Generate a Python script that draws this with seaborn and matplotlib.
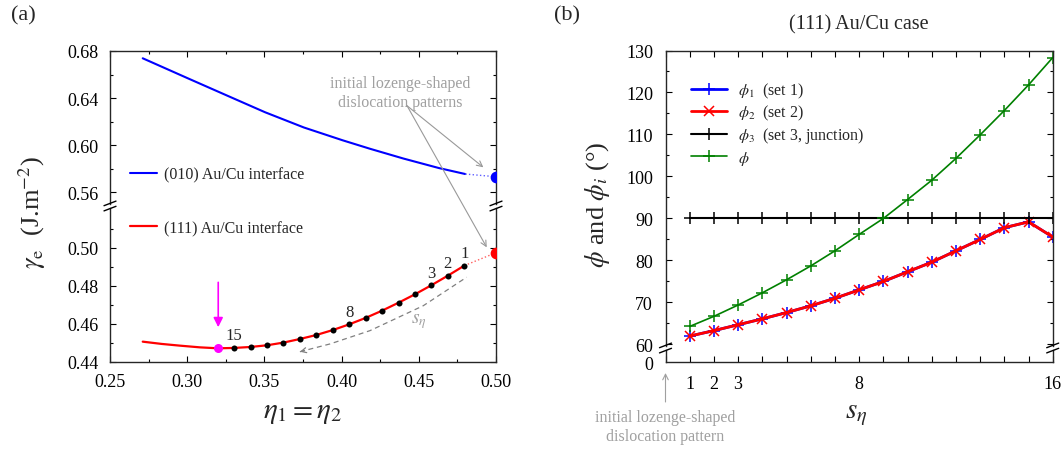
import matplotlib
matplotlib.use("Agg")
import matplotlib.pyplot as plt
import seaborn as sns
from matplotlib.lines import Line2D
from matplotlib.text import Annotation
from matplotlib.ticker import FixedLocator, FormatStrFormatter

# --- Data: panel (a), interface energy vs eta ---
eta_010 = [0.2712, 0.3007, 0.3256, 0.3504, 0.3756, 0.4007, 0.4184, 0.4400, 0.4630, 0.4801]
gam_010 = [0.6738, 0.6566, 0.6422, 0.6279, 0.6149, 0.6040, 0.5968, 0.5885, 0.5804, 0.5753]
eta_010_tail = [0.4801, 0.500]
gam_010_tail = [0.5753, 0.5730]

eta_111_head = [0.2712, 0.2835, 0.2953, 0.3083]
gam_111_head = [0.4507, 0.4495, 0.4486, 0.4477]
# dislocation steps s = 1..16 (16 = minimum, magenta)
eta_steps = [0.4795, 0.4688, 0.4582, 0.4475, 0.4369, 0.4262, 0.4156, 0.4049,
             0.3943, 0.3836, 0.3730, 0.3623, 0.3517, 0.3410, 0.3304, 0.3201]
gam_steps = [0.4907, 0.4854, 0.4804, 0.4756, 0.4712, 0.4670, 0.4632, 0.4598,
             0.4568, 0.4542, 0.4521, 0.4502, 0.4488, 0.4479, 0.4474, 0.4472]
eta_111_tail = [0.4795, 0.500]
gam_111_tail = [0.4907, 0.4975]
step_labels = {0: "1", 1: "2", 2: "3", 7: "8", 14: "15"}

# s_eta guide curve (grey dashed)
eta_guide = [0.3730, 0.3925, 0.4184, 0.4529, 0.4810]
gam_guide = [0.4454, 0.4495, 0.4565, 0.4696, 0.4846]

# --- Data: panel (b), angles vs s_eta ---
s_eta = [1, 2, 3, 4, 5, 6, 7, 8, 9, 10, 11, 12, 13, 14, 15, 16]
phi = [64.3, 66.7, 69.4, 72.3, 75.4, 78.7, 82.3, 86.2,
       90.0, 94.5, 99.1, 104.3, 109.9, 115.7, 121.8, 128.3]
phi1 = [62.0, 63.3, 64.7, 66.1, 67.6, 69.2, 71.0, 73.0,
        75.0, 77.3, 79.6, 82.3, 85.0, 87.8, 89.2, 85.6]
phi2 = [62.0, 63.3, 64.7, 66.1, 67.6, 69.2, 71.0, 73.0,
        75.0, 77.3, 79.6, 82.3, 85.0, 87.8, 89.2, 85.6]
phi3 = [90, 90, 90, 90, 90, 90, 90, 90, 90, 90, 90, 90, 90, 90, 90, 90]
s_ticklabels = ["", "1", "2", "3", "", "", "", "", "8",
                "", "", "", "", "", "", "", "16"]

# --- Style ---
sns.set_style("ticks")
plt.rcParams['font.family'] = ['Liberation Serif', 'DejaVu Serif']
plt.rcParams['mathtext.fontset'] = 'stix'
plt.rcParams['axes.linewidth'] = 1.0

W, H = 1064, 452
fig = plt.figure(figsize=(W / 100, H / 100), dpi=100)


def px_axes(x0, x1, y0, y1):
    return fig.add_axes([x0 / W, (H - y1) / H, (x1 - x0) / W, (y1 - y0) / H])


def style_ticks(ax):
    ax.tick_params(which='both', direction='in', top=True, right=True,
                   labelsize=13, width=0.8, colors='black')
    ax.tick_params(which='major', length=4, pad=8)
    ax.tick_params(which='minor', length=2.2)
    ax.set_xlabel('')
    ax.set_ylabel('')


def break_marks(xp, yp):
    for dy in (-2.6, 2.6):
        fig.add_artist(Line2D([(xp - 6) / 100, (xp + 6) / 100],
                              [(H - (yp + dy + 2.3)) / 100, (H - (yp + dy - 2.3)) / 100],
                              transform=fig.dpi_scale_trans, color='black', lw=1.0))


grey = '#a0a0a0'

# ================= Panel (a) =================
ax_au = px_axes(110, 496, 52, 205)
ax_al = px_axes(110, 496, 209, 363)

sns.lineplot(x=eta_010, y=gam_010, ax=ax_au, color='#0000ff', lw=1.5,
             label='(010) Au/Cu interface')
ax_au.plot(eta_010_tail, gam_010_tail, color='#6060ff', lw=1.0, ls=':')
ax_au.scatter([eta_010_tail[-1]], [gam_010_tail[-1]], s=55, color='#0000ff', zorder=5)

eta_111 = eta_111_head + eta_steps[::-1]
gam_111 = gam_111_head + gam_steps[::-1]
sns.lineplot(x=eta_111, y=gam_111, ax=ax_al, color='#ff0000', lw=1.6, sort=False,
             label='(111) Au/Cu interface')
ax_al.plot(eta_111_tail, gam_111_tail, color='#ff6060', lw=1.0, ls=':')
ax_al.scatter([eta_111_tail[-1]], [gam_111_tail[-1]], s=55, color='#ff0000', zorder=5)
sns.scatterplot(x=eta_steps[:15], y=gam_steps[:15], ax=ax_al, color='black', s=19,
                edgecolor='black', linewidth=0, zorder=6)
ax_al.scatter([eta_steps[15]], [gam_steps[15]], s=30, color='magenta', zorder=6)

for i, txt in step_labels.items():
    ax_al.annotate(txt, (eta_steps[i], gam_steps[i]), xytext=(0, 9),
                   textcoords='offset points', ha='center', va='center', fontsize=12)

# magenta arrow toward the minimum
ax_al.annotate('', xy=(eta_steps[15], 0.4583), xytext=(eta_steps[15], 0.4819),
               arrowprops=dict(arrowstyle='-|>', color='magenta', lw=1.2,
                               mutation_scale=14, shrinkA=0, shrinkB=0))

# s_eta guide
ax_al.plot(eta_guide, gam_guide, color='#808080', lw=0.9, ls=(0, (4, 3)))
ax_al.annotate('', xy=(eta_guide[0], gam_guide[0]),
               xytext=(eta_guide[0] + 0.003, gam_guide[0] + 0.0006),
               arrowprops=dict(arrowstyle='->', color='#808080', lw=0.9,
                               shrinkA=0, shrinkB=0, mutation_scale=9))
ax_al.text(0.4497, 0.4617, r'$s_\eta$', color=grey, fontsize=14,
           ha='center', va='center')

# initial pattern annotation
ax_au.text(0.4378, 0.6443, 'initial lozenge-shaped\ndislocation patterns',
           color=grey, fontsize=11.5, ha='center', va='center', linespacing=1.25)
for tgt, tax in (((0.4918, 0.5810), ax_au), ((0.4940, 0.5003), ax_al)):
    fig.add_artist(Annotation('', xy=tgt, xycoords=tax.transData,
                              xytext=(0.4424, 0.6334), textcoords=ax_au.transData,
                              arrowprops=dict(arrowstyle='->', color='#999999', lw=0.8,
                                              shrinkA=0, shrinkB=0)))

for ax in (ax_au, ax_al):
    ax.set_xlim(0.25, 0.50)
    ax.xaxis.set_major_locator(FixedLocator([0.25, 0.30, 0.35, 0.40, 0.45, 0.50]))
    ax.xaxis.set_minor_locator(FixedLocator([0.275, 0.325, 0.375, 0.425, 0.475]))
    ax.xaxis.set_major_formatter(FormatStrFormatter('%.2f'))
    ax.yaxis.set_major_formatter(FormatStrFormatter('%.2f'))
    style_ticks(ax)

ax_au.set_ylim(0.5498, 0.68)
ax_au.yaxis.set_major_locator(FixedLocator([0.56, 0.60, 0.64, 0.68]))
ax_au.yaxis.set_minor_locator(FixedLocator([0.58, 0.62, 0.66]))
ax_au.spines['bottom'].set_visible(False)
ax_au.tick_params(which='both', bottom=False, labelbottom=False)

ax_al.set_ylim(0.44, 0.521)
ax_al.yaxis.set_major_locator(FixedLocator([0.44, 0.46, 0.48, 0.50]))
ax_al.yaxis.set_minor_locator(FixedLocator([0.45, 0.47, 0.49, 0.51]))
ax_al.spines['top'].set_visible(False)
ax_al.tick_params(which='both', top=False)

ax_au.legend(handles=[ax_au.lines[0]], loc='upper left', bbox_to_anchor=(0.052, 0.245),
             frameon=False, fontsize=11.5, handlelength=1.7, handletextpad=0.4,
             borderpad=0, borderaxespad=0)
ax_al.legend(handles=[ax_al.lines[0]], loc='upper left', bbox_to_anchor=(0.052, 0.922),
             frameon=False, fontsize=11.5, handlelength=1.7, handletextpad=0.4,
             borderpad=0, borderaxespad=0)

break_marks(110, 207)
break_marks(496, 207)

fig.text(23 / W, (H - 16) / H, '(a)', fontsize=16, ha='center', va='center')
fig.text(32 / W, (H - 213) / H, r'$\gamma_{\rm e}$  (J.m$^{-2}$)', rotation=90,
         fontsize=19, ha='center', va='center')
fig.text(303 / W, (H - 413) / H, r'$\eta_1 = \eta_2$', fontsize=21,
         ha='center', va='center')

# ================= Panel (b) =================
ax_bu = px_axes(665.5, 1052.7, 51.5, 347)
ax_bl = px_axes(665.5, 1052.7, 351, 363.3)

sns.lineplot(x=s_eta, y=phi1, ax=ax_bu, color='#0000ff', lw=2.0, marker='+',
             markersize=9, markeredgewidth=1.1, markeredgecolor='#0000ff',
             label=r'$\phi_1$  (set 1)')
sns.lineplot(x=s_eta, y=phi2, ax=ax_bu, color='#ff0000', lw=2.0, marker='x',
             markersize=7, markeredgewidth=1.1, markeredgecolor='#ff0000',
             label=r'$\phi_2$  (set 2)')
sns.lineplot(x=s_eta, y=phi3, ax=ax_bu, color='black', lw=1.5, marker='+',
             markersize=9, markeredgewidth=1.1, markeredgecolor='black',
             label=r'$\phi_3$  (set 3, junction)')
sns.lineplot(x=s_eta, y=phi, ax=ax_bu, color='#008000', lw=1.2, marker='+',
             markersize=9, markeredgewidth=1.1, markeredgecolor='#008000',
             label=r'$\phi$')

for ax in (ax_bu, ax_bl):
    ax.set_xlim(0, 16)
    style_ticks(ax)
    ax.tick_params(which='major', pad=9)

ax_bu.set_ylim(59.64, 130)
ax_bu.yaxis.set_major_locator(FixedLocator([60, 70, 80, 90, 100, 110, 120, 130]))
ax_bu.yaxis.set_minor_locator(FixedLocator([65, 75, 85, 95, 105, 115, 125]))
ax_bu.xaxis.set_major_locator(FixedLocator(list(range(0, 17))))
ax_bu.spines['bottom'].set_visible(False)
ax_bu.tick_params(which='both', bottom=False, labelbottom=False)

ax_bl.set_ylim(0, 1)
ax_bl.set_yticks([0])
ax_bl.set_xticks(list(range(0, 17)))
ax_bl.set_xticklabels(s_ticklabels)
ax_bl.spines['top'].set_visible(False)
ax_bl.tick_params(which='both', top=False)
ax_bl.tick_params(axis='y', which='major', length=0)

ax_bu.legend(loc='upper left', bbox_to_anchor=(0.065, 0.898), frameon=False,
             fontsize=11.5, handlelength=2.25, handletextpad=0.7, labelspacing=0.2,
             borderpad=0, borderaxespad=0)

break_marks(665.5, 349)
break_marks(1052.7, 349)

fig.text(567 / W, (H - 16) / H, '(b)', fontsize=16, ha='center', va='center')
fig.text(859 / W, (H - 25) / H, '(111) Au/Cu case', fontsize=14.5,
         ha='center', va='center')
fig.text(597 / W, (H - 205) / H, r'$\phi$ and $\phi_i$ (°)', rotation=90,
         fontsize=19, ha='center', va='center')
fig.text(856 / W, (H - 415) / H, r'$s_\eta$', fontsize=21, ha='center', va='center')

# pointer to s = 0
fig.add_artist(Annotation('', xy=(665.5 / W, (H - 374) / H), xycoords='figure fraction',
                          xytext=(665.5 / W, (H - 403) / H), textcoords='figure fraction',
                          arrowprops=dict(arrowstyle='->', color=grey, lw=0.8,
                                          shrinkA=0, shrinkB=0)))
fig.text(665.5 / W, (H - 428) / H, 'initial lozenge-shaped\ndislocation pattern',
         color=grey, fontsize=11.5, ha='center', va='center', linespacing=1.25)

fig.savefig('out.png', dpi=100)
